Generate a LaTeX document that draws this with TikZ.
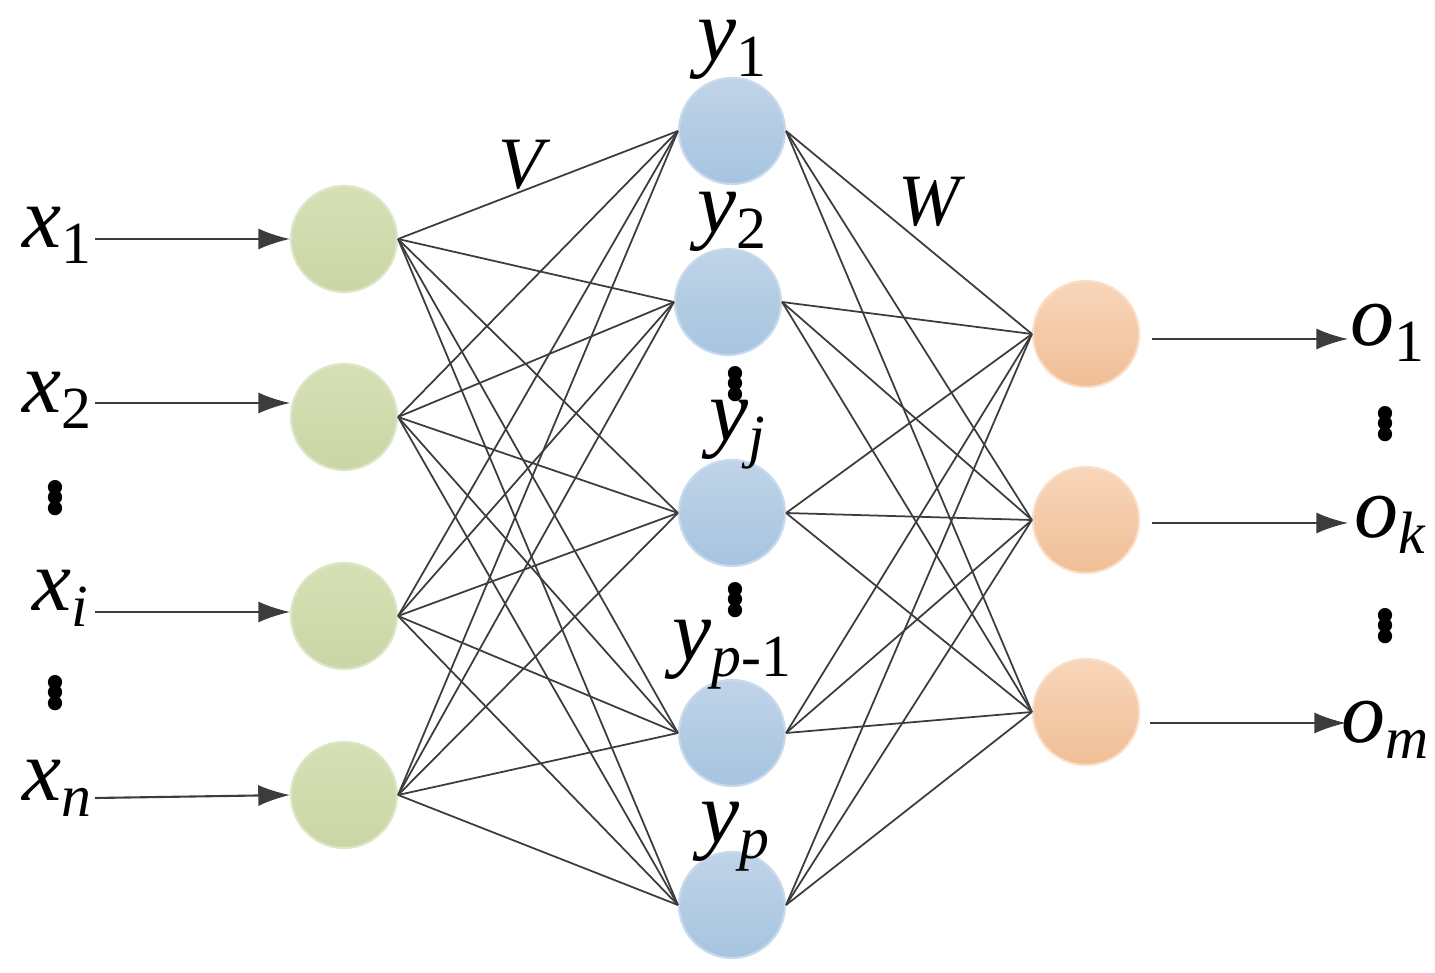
\documentclass[tikz,border=0pt]{standalone}
\usepackage{fontspec}
\setmainfont{Liberation Serif}
\usetikzlibrary{arrows.meta}
\definecolor{gt}{RGB}{214,224,182}
\definecolor{gb}{RGB}{201,214,164}
\definecolor{gd}{RGB}{222,230,200}
\definecolor{bt}{RGB}{192,212,232}
\definecolor{bb}{RGB}{166,196,224}
\definecolor{bd}{RGB}{200,218,236}
\definecolor{ot}{RGB}{248,214,186}
\definecolor{ob}{RGB}{240,190,150}
\definecolor{od}{RGB}{250,222,198}
\definecolor{ln}{RGB}{60,60,60}
\newcommand\lab[2]{\textit{#1}\raisebox{-0.4ex}{\fontsize{17}{18}\selectfont #2}}
\newcommand\vdts{\raisebox{0pt}{\shortstack{.\\[-4pt].\\[-4pt].}}}
\begin{document}
\begin{tikzpicture}[x=0.01cm,y=-0.01cm,
 neuron/.style={circle,minimum size=1.06cm,inner sep=0pt,line width=0.6pt},
 gn/.style={neuron,top color=gt,bottom color=gb,draw=gd},
 bn/.style={neuron,top color=bt,bottom color=bb,draw=bd},
 on/.style={neuron,top color=ot,bottom color=ob,draw=od},
 lbl/.style={font=\fontsize{25}{27}\selectfont,inner sep=0pt},
 dts/.style={font=\fontsize{25}{27}\selectfont\bfseries,inner sep=0pt},
 edge/.style={draw=ln,line width=0.5pt},
 arr/.style={draw=ln,line width=0.6pt,-{Latex[length=9pt,width=6pt]}}]
\useasboundingbox (0,0) rectangle (1435,973);
\foreach \n/\y in {1/239,2/417,3/616,4/795} \node[gn] (i\n) at (344,\y) {};
\foreach \n/\x/\y in {1/732/131,2/728/302,3/732/513,4/732/733,5/732/905} \node[bn] (h\n) at (\x,\y) {};
\foreach \n/\y in {1/334,2/520,3/712} \node[on] (o\n) at (1086,\y) {};
\foreach \a in {1,...,4} \foreach \b in {1,...,5} \draw[edge] (i\a.east) -- (h\b.west);
\foreach \a in {1,...,5} \foreach \b in {1,...,3} \draw[edge] (h\a.east) -- (o\b.west);
\node[lbl] (lx1) at (57,235) {\lab{x}{1}};
\node[lbl] (lx2) at (57,400) {\lab{x}{2}};
\node[dts] (lxd1) at (55,498) {\vdts};
\node[lbl] (lxi) at (60,598) {\lab{x}{\textit{i}}};
\node[dts] (lxd2) at (55,693) {\vdts};
\node[lbl] (lxn) at (57,788) {\lab{x}{\textit{n}}};
\coordinate (c1) at (95,239); \coordinate (c2) at (95,403);
\coordinate (c3) at (95,612); \coordinate (c4) at (95,798);
\draw[arr] (c1) -- (i1.west); \draw[arr] (c2) -- (290,403);
\draw[arr] (c3) -- (290,612); \draw[arr] (c4) -- (i4.west);
\node[lbl] (ly1) at (732,50) {\lab{y}{1}};
\node[lbl] (ly2) at (732,222) {\lab{y}{2}};
\node[dts] (lyd1) at (735,384) {\vdts};
\node[lbl] (lyj) at (737,435) {\lab{y}{\textit{j}}};
\node[dts] (lyd2) at (735,600) {\vdts};
\node[lbl] (lyp1) at (732,655) {\lab{y}{\textit{p}-1}};
\node[lbl] (lyp) at (735,837) {\lab{y}{\textit{p}}};
\node[lbl,font=\fontsize{21}{23}\selectfont] (lV) at (525,165) {\textit{V}};
\node[lbl,font=\fontsize{21}{23}\selectfont] (lW) at (932,202) {\textit{W}};
\node[lbl] (lo1) at (1387,333) {\lab{o}{1}};
\node[dts] (lod1) at (1385,424) {\vdts};
\node[lbl] (lok) at (1390,525) {\lab{o}{\textit{k}}};
\node[dts] (lod2) at (1385,626) {\vdts};
\node[lbl] (lom) at (1385,730) {\lab{o}{\textit{m}}};
\coordinate (e1) at (1348,339); \coordinate (e2) at (1348,523); \coordinate (e3) at (1346,723);
\draw[arr] (1152,339) -- (e1); \draw[arr] (1152,523) -- (e2); \draw[arr] (1150,723) -- (e3);
\end{tikzpicture}
\end{document}
